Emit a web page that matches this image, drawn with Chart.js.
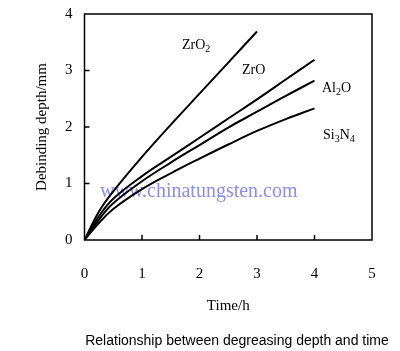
<!DOCTYPE html>
<html>
<head>
<meta charset="utf-8">
<script src="https://cdn.jsdelivr.net/npm/chart.js@4.4.0/dist/chart.umd.min.js"></script>
<style>
  html, body { margin: 0; padding: 0; background: #fff; }
  #wrap { position: relative; width: 400px; height: 351px; }
  #caption {
    position: absolute; left: 84px; top: 332px; width: 306px;
    text-align: center; font: 14px "Liberation Sans", Arial, sans-serif; color: #000;
    white-space: nowrap;
  }
</style>
</head>
<body>
<div id="wrap">
  <canvas id="chart" width="400" height="351"></canvas>
  <div id="caption">Relationship between degreasing depth and time</div>
</div>
<script>
// time (h) and debinding depth (mm)
const timeZrO2 = [0, 0.25, 0.5, 1, 1.5, 2, 2.5, 3];
const depthZrO2 = [0, 0.5, 0.86, 1.47, 2.04, 2.59, 3.14, 3.69];

const timeOther = [0, 0.25, 0.5, 1, 1.5, 2, 2.5, 3, 3.5, 4];
const depthZrO = [0, 0.42, 0.73, 1.13, 1.47, 1.81, 2.15, 2.49, 2.84, 3.19];
const depthAl2O = [0, 0.36, 0.65, 1.04, 1.37, 1.68, 1.99, 2.27, 2.55, 2.82];
const depthSi3N4 = [0, 0.3, 0.55, 0.9, 1.18, 1.44, 1.69, 1.93, 2.14, 2.33];

const xTicks = [0, 1, 2, 3, 4, 5];
const yTicks = [0, 1, 2, 3, 4];

function pts(xs, ys) {
  return xs.map((x, i) => ({ x: x, y: ys[i] }));
}

function series(label, xs, ys) {
  return {
    label: label,
    data: pts(xs, ys),
    borderColor: "#000",
    borderWidth: 2,
    pointRadius: 0,
    fill: false,
    tension: 0.4,
  };
}

const serif = "'Liberation Serif', 'Times New Roman', serif";

// frame, inward ticks, curve names and the watermark text
const decor = {
  id: "decor",
  beforeDatasetsDraw(chart) {
    const { ctx } = chart;
    ctx.save();
    ctx.font = "20px " + serif;
    ctx.fillStyle = "rgba(90, 90, 235, 0.7)";
    ctx.textBaseline = "middle";
    ctx.fillText("www.chinatungsten.com", 100, 192);
    ctx.restore();
  },
  afterDatasetsDraw(chart) {
    const { ctx, chartArea: a, scales } = chart;
    ctx.save();
    ctx.strokeStyle = "#000";
    ctx.lineWidth = 1.5;
    ctx.strokeRect(a.left, a.top, a.right - a.left, a.bottom - a.top);
    ctx.beginPath();
    xTicks.slice(1, -1).forEach((v) => {
      const px = scales.x.getPixelForValue(v);
      ctx.moveTo(px, a.bottom);
      ctx.lineTo(px, a.bottom - 5);
    });
    yTicks.slice(1, -1).forEach((v) => {
      const py = scales.y.getPixelForValue(v);
      ctx.moveTo(a.left, py);
      ctx.lineTo(a.left + 5, py);
    });
    ctx.stroke();

    // curve names with subscripts
    const labels = [
      { parts: [["Zr", 0], ["O", 0], ["2", 1]], x: 182, y: 45 },
      { parts: [["ZrO", 0]], x: 242, y: 70 },
      { parts: [["Al", 0], ["2", 1], ["O", 0]], x: 322, y: 88 },
      { parts: [["Si", 0], ["3", 1], ["N", 0], ["4", 1]], x: 323, y: 135 },
    ];
    ctx.fillStyle = "#000";
    ctx.textBaseline = "middle";
    labels.forEach((l) => {
      let x = l.x;
      l.parts.forEach(([t, sub]) => {
        ctx.font = (sub ? "10px " : "14px ") + serif;
        ctx.fillText(t, x, l.y + (sub ? 4 : 0));
        x += ctx.measureText(t).width;
      });
    });
    ctx.restore();
  },
};

new Chart(document.getElementById("chart"), {
  type: "line",
  data: {
    datasets: [
      series("ZrO2", timeZrO2, depthZrO2),
      series("ZrO", timeOther, depthZrO),
      series("Al2O", timeOther, depthAl2O),
      series("Si3N4", timeOther, depthSi3N4),
    ],
  },
  options: {
    responsive: false,
    animation: false,
    layout: { padding: { left: 0, right: 28, top: 14, bottom: 0 } },
    scales: {
      x: {
        type: "linear",
        min: 0,
        max: 5,
        afterBuildTicks: (s) => { s.ticks = xTicks.map((v) => ({ value: v })); },
        afterFit: (s) => { s.height = 111; s.paddingLeft = 0; s.paddingRight = 0; },
        grid: { display: false, drawTicks: false },
        border: { display: false },
        ticks: { padding: 25, color: "#000", font: { family: serif, size: 15 } },
        title: {
          display: true,
          text: "Time/h",
          color: "#000",
          padding: { top: 0, bottom: 36 },
          font: { family: serif, size: 15 },
        },
      },
      y: {
        min: 0,
        max: 4,
        afterBuildTicks: (s) => { s.ticks = yTicks.map((v) => ({ value: v })); },
        afterFit: (s) => { s.width = 84.5; s.paddingTop = 0; s.paddingBottom = 0; },
        grid: { display: false, drawTicks: false },
        border: { display: false },
        ticks: { padding: 12, color: "#000", font: { family: serif, size: 15 } },
        title: {
          display: true,
          text: "Debinding depth/mm",
          color: "#000",
          padding: { top: 33, bottom: 0 },
          font: { family: serif, size: 15 },
        },
      },
    },
    plugins: {
      legend: { display: false },
      tooltip: { enabled: false },
    },
  },
  plugins: [decor],
});
</script>
</body>
</html>
